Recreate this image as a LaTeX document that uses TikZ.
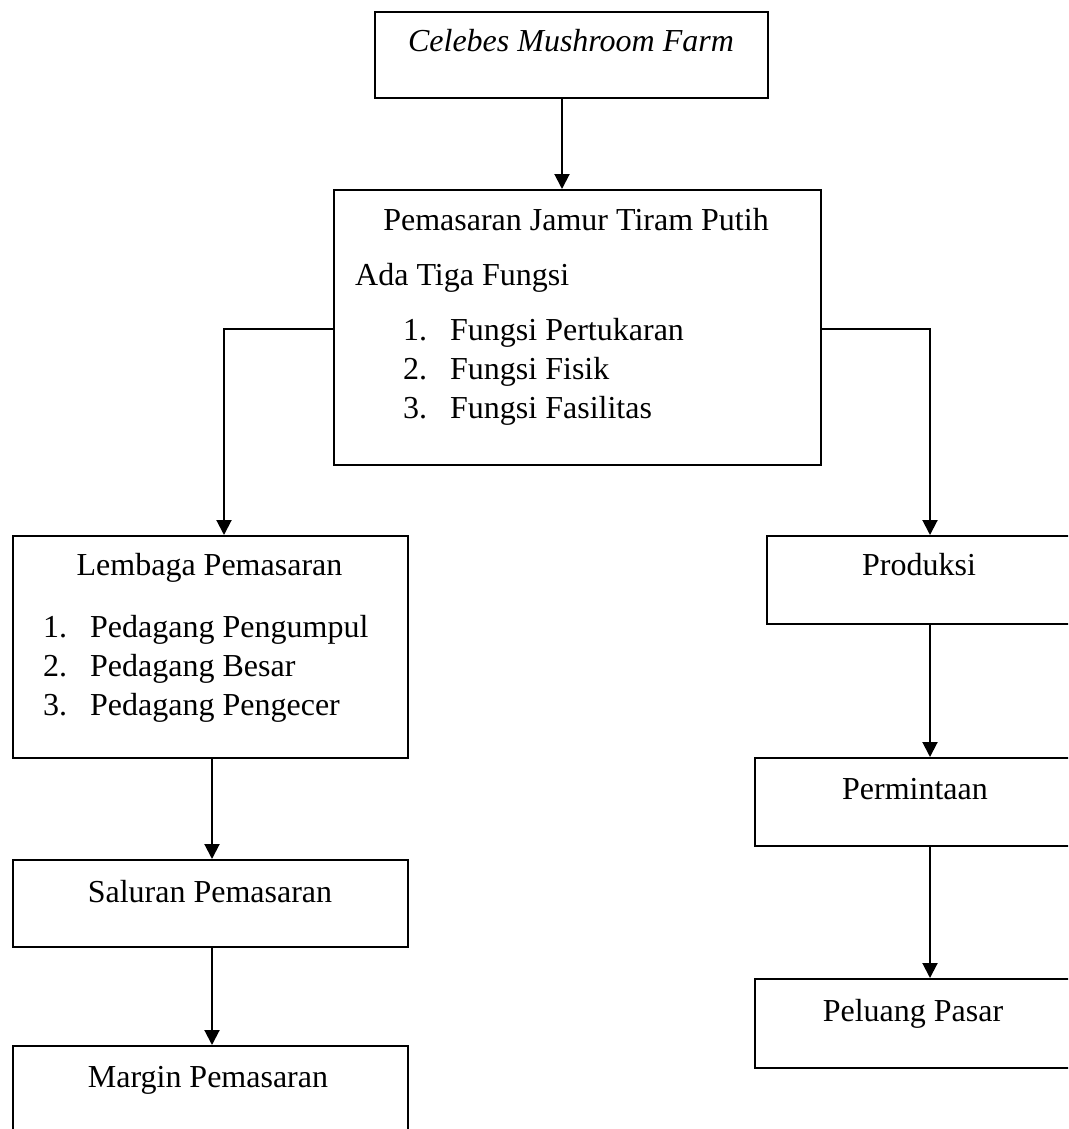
\documentclass[tikz,border=0pt]{standalone}
\usepackage{fontspec}
\setmainfont{Liberation Serif}
\usetikzlibrary{arrows.meta}
\begin{document}
\begin{tikzpicture}[x=1pt,y=-1pt,
  box/.style={draw,line width=2pt,inner sep=0pt,anchor=north west},
  txt/.style={font=\fontsize{32}{39}\selectfont,inner sep=0pt},
  arr/.style={line width=2pt,-{Triangle[width=15pt,length=15pt]}},
  conn/.style={line width=2pt}]
\fill[white] (0,0) rectangle (1068,1129);
\useasboundingbox (0,0) rectangle (1068,1129);
\clip (0,0) rectangle (1068,1129);

% boxes
\node[box,minimum width=393pt,minimum height=86pt] (top) at (374,11) {};
\node[box,minimum width=487pt,minimum height=275pt] (mid) at (333,189) {};
\node[box,minimum width=395pt,minimum height=222pt] (L1) at (12,535) {};
\node[box,minimum width=395pt,minimum height=87pt] (L2) at (12,859) {};
\node[box,minimum width=395pt,minimum height=120pt] (L3) at (12,1045) {};
\node[box,minimum width=340pt,minimum height=88pt] (R1) at (766,535) {};
\node[box,minimum width=352pt,minimum height=88pt] (R2) at (754,757) {};
\node[box,minimum width=352pt,minimum height=89pt] (R3) at (754,978) {};

% texts
\node[txt,anchor=base] (ttop) at (571,52) {\itshape Celebes Mushroom Farm};
\node[txt,anchor=base] (tmid) at (576,230) {Pemasaran Jamur Tiram Putih};
\node[txt,anchor=base west] (tada) at (355,285) {Ada Tiga Fungsi};
\node[txt,anchor=base west] (mn1) at (403,340) {1.};
\node[txt,anchor=base west] (mn2) at (403,379) {2.};
\node[txt,anchor=base west] (mn3) at (403,418) {3.};
\node[txt,anchor=base west] (mi1) at (450,340) {Fungsi Pertukaran};
\node[txt,anchor=base west] (mi2) at (450,379) {Fungsi Fisik};
\node[txt,anchor=base west] (mi3) at (450,418) {Fungsi Fasilitas};

\node[txt,anchor=base] (tL1) at (209.5,575) {Lembaga Pemasaran};
\node[txt,anchor=base west] (ln1) at (43,637) {1.};
\node[txt,anchor=base west] (ln2) at (43,676) {2.};
\node[txt,anchor=base west] (ln3) at (43,715) {3.};
\node[txt,anchor=base west] (li1) at (90,637) {Pedagang Pengumpul};
\node[txt,anchor=base west] (li2) at (90,676) {Pedagang Besar};
\node[txt,anchor=base west] (li3) at (90,715) {Pedagang Pengecer};

\node[txt,anchor=base] (tL2) at (210,902) {Saluran Pemasaran};
\node[txt,anchor=base] (tL3) at (208,1087) {Margin Pemasaran};
\node[txt,anchor=base] (tR1) at (919,575) {Produksi};
\node[txt,anchor=base] (tR2) at (915,799) {Permintaan};
\node[txt,anchor=base] (tR3) at (913,1021) {Peluang Pasar};

% connector guides
\coordinate (ax) at (562,0);
\coordinate (yc) at (0,329);
\coordinate (lx) at (224,0);
\coordinate (rx) at (930,0);
\coordinate (cx) at (212,0);

\draw[arr] (top.south -| ax) -- (mid.north -| ax);
\draw[arr] (mid.west |- yc) -| (L1.north -| lx);
\draw[arr] (mid.east |- yc) -| (R1.north -| rx);
\draw[arr] (L1.south -| cx) -- (L2.north -| cx);
\draw[arr] (L2.south -| cx) -- (L3.north -| cx);
\draw[arr] (R1.south -| rx) -- (R2.north -| rx);
\draw[arr] (R2.south -| rx) -- (R3.north -| rx);
\end{tikzpicture}
\end{document}
